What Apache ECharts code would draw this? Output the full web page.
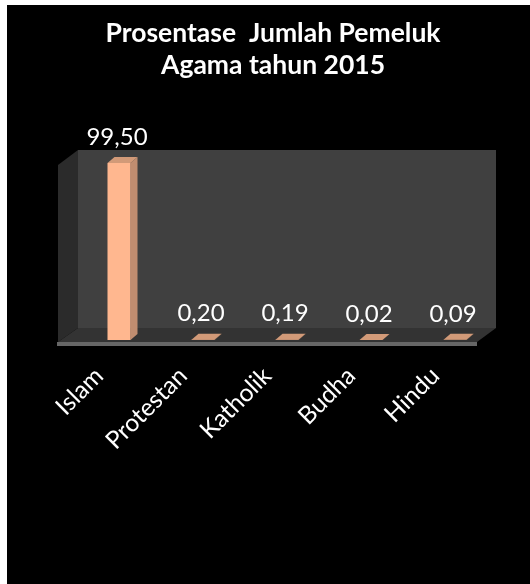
<!DOCTYPE html>
<html>
<head>
<meta charset="utf-8">
<script src="https://cdn.jsdelivr.net/npm/echarts@6/dist/echarts.min.js"></script>
<style>
  html, body { margin: 0; padding: 0; background: #fff; }
  #bg { position: absolute; left: 7px; top: 5px; width: 523px; height: 579px; background: #000; }
  #main { position: absolute; left: 0; top: 0; width: 530px; height: 584px; }
</style>
</head>
<body>
<div id="bg"></div>
<div id="main"></div>
<script>
const titleLines = ['Prosentase  Jumlah Pemeluk', 'Agama tahun 2015'];
const categories = ['Islam', 'Protestan', 'Katholik', 'Budha', 'Hindu'];
const values = [99.5, 0.2, 0.19, 0.02, 0.09];

const chart = echarts.init(document.getElementById('main'));
const FONT = 'Lato';

// depth of the fake 3d bars
const depthX = 7, depthY = 6, barW = 23;

chart.setOption({
  backgroundColor: 'transparent',
  animation: false,
  title: {
    text: titleLines.join('\n'),
    left: 268, top: 12, textAlign: 'center',
    textStyle: { color: '#fff', fontFamily: FONT, fontWeight: 'bold', fontSize: 26.5, lineHeight: 32 }
  },
  grid: { left: 77, right: 33, top: 162, bottom: 244 },
  xAxis: {
    type: 'category',
    data: categories,
    axisLine: { show: false },
    axisTick: { show: false },
    axisLabel: {
      interval: 0, rotate: 45, color: '#fff', fontFamily: FONT, fontSize: 24.5, margin: 12,
      padding: [0, 28, 0, 0]
    }
  },
  yAxis: { type: 'value', min: 0, max: 100, show: false },
  // box walls behind the bars
  graphic: [
    { type: 'polygon', z: 0, shape: { points: [[78, 150], [496, 150], [496, 328], [78, 328]] }, style: { fill: '#404040' } },
    { type: 'polygon', z: 0, shape: { points: [[58, 165], [78, 150], [78, 328], [58, 342]] }, style: { fill: '#2b2b2b' } },
    { type: 'polygon', z: 0, shape: { points: [[78, 328], [496, 328], [477, 342], [58, 342]] }, style: { fill: '#333333' } },
    { type: 'rect', z: 0, shape: { x: 57, y: 342, width: 420, height: 4 }, style: { fill: '#666666' } }
  ],
  series: [
    {
      type: 'custom',
      z: 3,
      data: values.map((v, i) => [i, v]),
      encode: { x: 0, y: 1 },
      renderItem(params, api) {
        const top = api.coord([api.value(0), api.value(1)]);
        const base = api.coord([api.value(0), 0]);
        const l = top[0] - barW / 2, r = top[0] + barW / 2;
        return {
          type: 'group',
          children: [
            { type: 'polygon', shape: { points: [[r, top[1]], [r + depthX, top[1] - depthY], [r + depthX, base[1] - depthY], [r, base[1]]] }, style: { fill: '#c08d70' } },
            { type: 'polygon', shape: { points: [[l, top[1]], [l + depthX, top[1] - depthY], [r + depthX, top[1] - depthY], [r, top[1]]] }, style: { fill: '#d29a78' } }
          ]
        };
      }
    },
    {
      type: 'bar',
      z: 4,
      data: values,
      barWidth: barW,
      itemStyle: { color: '#ffb78f' },
      label: {
        show: true, position: 'top', distance: 14, offset: [-2, 0],
        color: '#fff', fontFamily: FONT, fontSize: 24,
        formatter: p => p.value.toFixed(2).replace('.', ',')
      }
    }
  ]
});
</script>
</body>
</html>
